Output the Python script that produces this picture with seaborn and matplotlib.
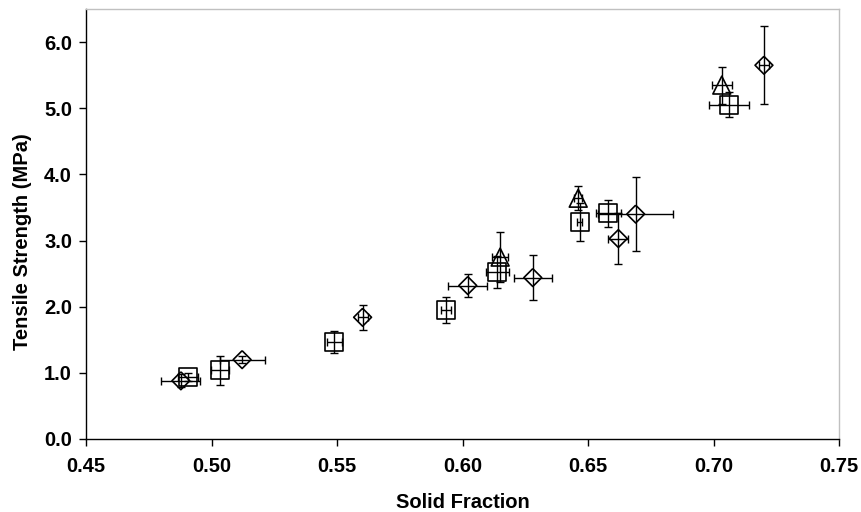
import matplotlib
matplotlib.use("Agg")
import matplotlib.pyplot as plt
import seaborn as sns
import pandas as pd
import numpy as np
from matplotlib.ticker import FormatStrFormatter

# ---- data ----
sq_x    = [0.4908, 0.5034, 0.5489, 0.5933, 0.6139, 0.6468, 0.6581, 0.7062]
sq_y    = [0.94,   1.04,   1.47,   1.95,   2.53,   3.28,   3.41,   5.05]
sq_xerr = [0.004,  0.0036, 0.003,  0.002,  0.0047, 0.001,  0.005,  0.0078]
sq_yerr = [0.06,   0.22,   0.17,   0.19,   0.24,   0.28,   0.21,   0.19]

di_x    = [0.4878, 0.5122, 0.5602, 0.6021, 0.6280, 0.6621, 0.6690, 0.7201]
di_y    = [0.88,   1.20,   1.84,   2.32,   2.44,   3.03,   3.40,   5.65]
di_xerr = [0.0078, 0.009,  0.002,  0.0077, 0.0076, 0.004,  0.015,  0.002]
di_yerr = [0.10,   0.05,   0.19,   0.18,   0.34,   0.38,   0.56,   0.59]

tr_x    = [0.6150, 0.6461, 0.7033]
tr_y    = [2.75,   3.64,   5.35]
tr_xerr = [0.0031, 0.0015, 0.0039]
tr_yerr = [0.38,   0.18,   0.28]

series_names = ["Square", "Diamond", "Triangle"]

x_ticks = [0.45, 0.50, 0.55, 0.60, 0.65, 0.70, 0.75]
y_ticks = [0.0, 1.0, 2.0, 3.0, 4.0, 5.0, 6.0]

df = pd.concat([
    pd.DataFrame({"x": sq_x, "y": sq_y, "xerr": sq_xerr, "yerr": sq_yerr, "series": series_names[0]}),
    pd.DataFrame({"x": di_x, "y": di_y, "xerr": di_xerr, "yerr": di_yerr, "series": series_names[1]}),
    pd.DataFrame({"x": tr_x, "y": tr_y, "xerr": tr_xerr, "yerr": tr_yerr, "series": series_names[2]}),
], ignore_index=True)

sns.set_style("white")
plt.rcParams["font.family"] = ["Liberation Sans", "DejaVu Sans"]
plt.rcParams["text.color"] = "black"
plt.rcParams["axes.labelcolor"] = "black"
plt.rcParams["xtick.color"] = "black"
plt.rcParams["ytick.color"] = "black"

fig = plt.figure(figsize=(8.61, 5.12), dpi=100)
ax = fig.add_axes([86 / 861, (512 - 439) / 512, (839 - 86) / 861, (439 - 9) / 512])

# error bars
ax.errorbar(df["x"], df["y"], xerr=df["xerr"], yerr=df["yerr"], fmt="none",
            ecolor="black", elinewidth=1.0, capsize=3, capthick=1.0, zorder=2)

diamond = [(0, 1), (1, 0), (0, -1), (-1, 0), (0, 1)]
markers = {"Square": "s", "Diamond": diamond, "Triangle": "^"}
sns.scatterplot(data=df, x="x", y="y", style="series", markers=markers,
                s=165, color="black", legend=False, ax=ax, zorder=3)
for coll in ax.collections:
    if coll.get_offsets().shape[0] == len(df):
        coll.set_facecolor("none")
        coll.set_edgecolor("black")
        coll.set_linewidth(1.2)

ax.set_xlim(0.45, 0.75)
ax.set_ylim(0.0, 6.5)
ax.set_xticks(x_ticks)
ax.set_yticks(y_ticks)
ax.xaxis.set_major_formatter(FormatStrFormatter("%.2f"))
ax.yaxis.set_major_formatter(FormatStrFormatter("%.1f"))

for lab in ax.get_xticklabels() + ax.get_yticklabels():
    lab.set_fontweight("bold")
    lab.set_fontsize(14.5)
    lab.set_color("black")

ax.tick_params(axis="both", which="major", direction="out", length=5, width=1,
               color="black", bottom=True, left=True)
ax.tick_params(axis="x", pad=8)
ax.tick_params(axis="y", pad=5)

ax.set_xlabel("Solid Fraction", fontsize=14.5, fontweight="bold", color="black")
ax.set_ylabel("Tensile Strength (MPa)", fontsize=14.5, fontweight="bold", color="black")
ax.xaxis.set_label_coords(0.5, -0.125)
ax.yaxis.set_label_coords(-0.072, 0.46)

for side in ["top", "right"]:
    ax.spines[side].set_visible(True)
    ax.spines[side].set_color("#c0c0c0")
    ax.spines[side].set_linewidth(1.0)
for side in ["left", "bottom"]:
    ax.spines[side].set_color("black")
    ax.spines[side].set_linewidth(1.0)

fig.savefig("out.png", dpi=100)
